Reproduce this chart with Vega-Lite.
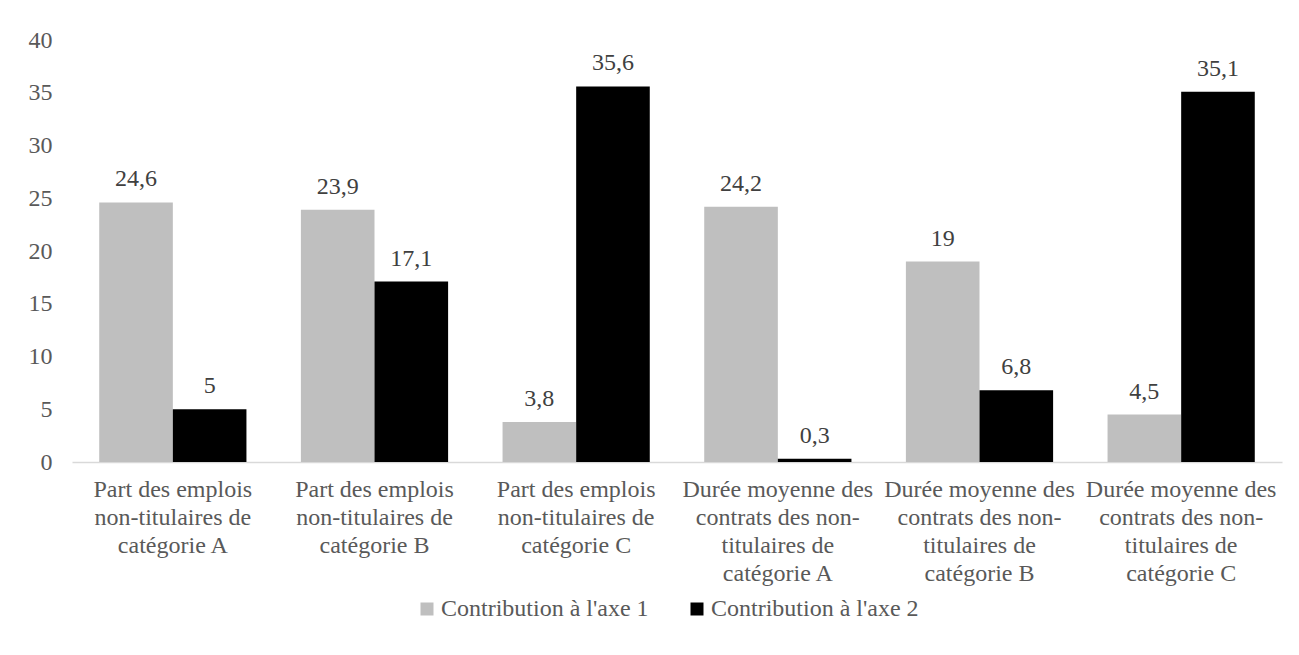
{
  "$schema": "https://vega.github.io/schema/vega-lite/v6.json",
  "autosize": "none",
  "width": 1210,
  "height": 422,
  "padding": {"left": 72, "top": 40, "right": 17, "bottom": 193},
  "background": "white",
  "config": {
    "font": "Liberation Serif",
    "view": {"stroke": null},
    "axis": {"labelFont": "Liberation Serif"},
    "legend": {"labelFont": "Liberation Serif"},
    "text": {"font": "Liberation Serif"},
    "locale": {"number": {"decimal": ",", "thousands": " ", "grouping": [3], "currency": ["", " €"]}}
  },
  "data": {
    "values": [
      {"categorie": "Part des emplois non-titulaires de catégorie A", "serie": "Contribution à l'axe 1", "valeur": 24.6},
      {"categorie": "Part des emplois non-titulaires de catégorie A", "serie": "Contribution à l'axe 2", "valeur": 5},
      {"categorie": "Part des emplois non-titulaires de catégorie B", "serie": "Contribution à l'axe 1", "valeur": 23.9},
      {"categorie": "Part des emplois non-titulaires de catégorie B", "serie": "Contribution à l'axe 2", "valeur": 17.1},
      {"categorie": "Part des emplois non-titulaires de catégorie C", "serie": "Contribution à l'axe 1", "valeur": 3.8},
      {"categorie": "Part des emplois non-titulaires de catégorie C", "serie": "Contribution à l'axe 2", "valeur": 35.6},
      {"categorie": "Durée moyenne des contrats des non-titulaires de catégorie A", "serie": "Contribution à l'axe 1", "valeur": 24.2},
      {"categorie": "Durée moyenne des contrats des non-titulaires de catégorie A", "serie": "Contribution à l'axe 2", "valeur": 0.3},
      {"categorie": "Durée moyenne des contrats des non-titulaires de catégorie B", "serie": "Contribution à l'axe 1", "valeur": 19},
      {"categorie": "Durée moyenne des contrats des non-titulaires de catégorie B", "serie": "Contribution à l'axe 2", "valeur": 6.8},
      {"categorie": "Durée moyenne des contrats des non-titulaires de catégorie C", "serie": "Contribution à l'axe 1", "valeur": 4.5},
      {"categorie": "Durée moyenne des contrats des non-titulaires de catégorie C", "serie": "Contribution à l'axe 2", "valeur": 35.1}
    ]
  },
  "encoding": {
    "x": {
      "field": "categorie",
      "type": "nominal",
      "sort": null,
      "scale": {"paddingInner": 0.27, "paddingOuter": 0.135},
      "axis": {
        "title": null,
        "labelAngle": 0,
        "ticks": false,
        "domainColor": "#D9D9D9",
        "domainWidth": 1.5,
        "labelColor": "#595959",
        "labelFontSize": 24,
        "labelLineHeight": 28,
        "labelPadding": 15,
        "labelLimit": 0,
        "labelExpr": "indexof(datum.value, 'Part') == 0 ? ['Part des emplois', 'non-titulaires de', substring(datum.value, 34)] : ['Durée moyenne des', 'contrats des non-', 'titulaires de', substring(datum.value, 48)]"
      }
    },
    "xOffset": {"field": "serie", "type": "nominal", "sort": null},
    "y": {
      "field": "valeur",
      "type": "quantitative",
      "scale": {"domain": [0, 40], "nice": false},
      "axis": {
        "title": null,
        "values": [0, 5, 10, 15, 20, 25, 30, 35, 40],
        "grid": false,
        "domain": false,
        "ticks": false,
        "labelColor": "#595959",
        "labelFontSize": 24,
        "labelPadding": 20
      }
    }
  },
  "layer": [
    {
      "mark": {"type": "bar"},
      "encoding": {
        "color": {
          "field": "serie",
          "type": "nominal",
          "sort": null,
          "scale": {"range": ["#BFBFBF", "#000000"]},
          "legend": {
            "title": null,
            "orient": "none",
            "legendX": 343,
            "legendY": 557,
            "direction": "horizontal",
            "symbolType": "square",
            "symbolSize": 169,
            "symbolStrokeWidth": 0,
            "labelFontSize": 24,
            "labelColor": "#595959",
            "labelLimit": 0,
            "columnPadding": 36,
            "labelOffset": 2
          }
        }
      }
    },
    {
      "mark": {"type": "text", "baseline": "alphabetic", "dy": -16, "fontSize": 24, "color": "#404040"},
      "encoding": {
        "text": {"field": "valeur", "type": "quantitative", "format": "~g"}
      }
    }
  ]
}
